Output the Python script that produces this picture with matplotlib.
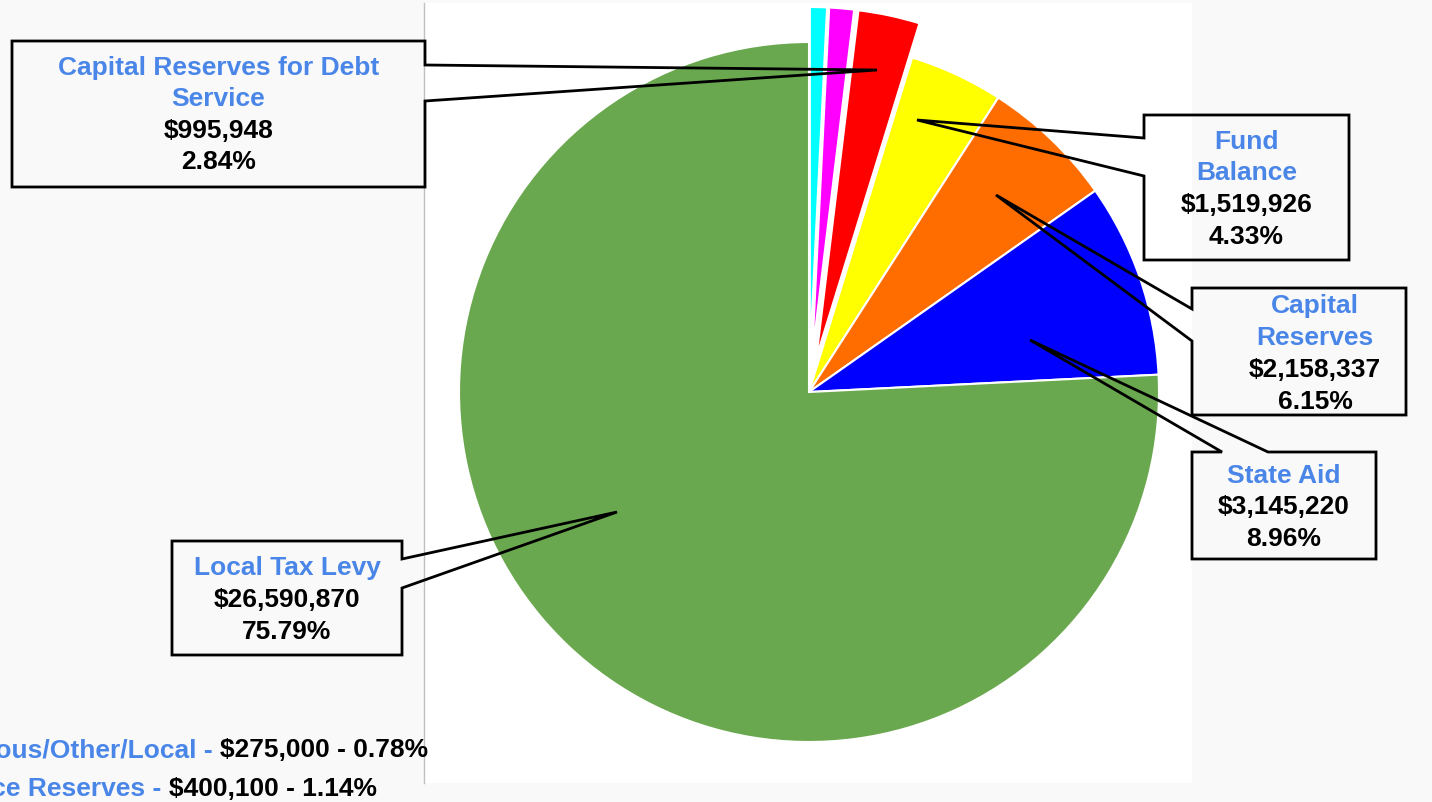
import matplotlib
matplotlib.use('Agg')
import matplotlib.pyplot as plt
from matplotlib.patches import Polygon, Rectangle

# slice data, clockwise from 12 o'clock
labels = ['Miscellaneous/Other/Local', 'Insurance Reserves', 'Capital Reserves for Debt Service',
          'Fund Balance', 'Capital Reserves', 'State Aid', 'Local Tax Levy']
amounts = [275000, 400100, 995948, 1519926, 2158337, 3145220, 26590870]
percents = ['0.78%', '1.14%', '2.84%', '4.33%', '6.15%', '8.96%', '75.79%']
colors = ['#00ffff', '#ff00ff', '#ff0000', '#ffff00', '#ff6d01', '#0000ff', '#6aa84f']
exploded = [True, True, True, False, False, False, False]

LABEL_BLUE = '#4a86e8'
BG = '#f9f9f9'
W, H = 1432, 802
FS = 19

plt.rcParams['font.family'] = ['Liberation Sans', 'DejaVu Sans']

fig = plt.figure(figsize=(W / 100, H / 100), dpi=100, facecolor=BG)
ax = fig.add_axes([0, 0, 1, 1])


def P(x, y):
    """pixel coords (top-left origin) -> data coords"""
    return (x, H - y)


# white plot panel
ax.add_patch(Rectangle(P(424, 783), 1192 - 424, 780, facecolor='white', edgecolor='none', zorder=0))
ax.plot([424, 424], [H - 783, H - 3], color='#c0c0c0', lw=1, zorder=1)

R = 350
cx, cy = P(809, 392)
ax.pie(amounts, colors=colors, startangle=90, counterclock=False, radius=R, center=(cx, cy),
       explode=[0.1 * R if e else 0 for e in exploded],
       wedgeprops=dict(edgecolor='white', linewidth=1.5), frame=True)
ax.set_xlim(0, W)
ax.set_ylim(0, H)
ax.set_aspect('equal')
ax.axis('off')


def callout(box, tip, side, a, b, name_lines, idx, line_y, xc=None):
    x0, y0, x1, y1 = box
    if side == 'right':
        pts = [(x0, y0), (x1, y0), (x1, a), tip, (x1, b), (x1, y1), (x0, y1)]
    elif side == 'left':
        pts = [(x0, y0), (x1, y0), (x1, y1), (x0, y1), (x0, b), tip, (x0, a)]
    else:  # top
        pts = [(x0, y0), (a, y0), tip, (b, y0), (x1, y0), (x1, y1), (x0, y1)]
    ax.add_patch(Polygon([P(*p) for p in pts], closed=True, facecolor='none',
                         edgecolor='black', lw=2, joinstyle='miter', zorder=5, clip_on=False))
    if xc is None:
        xc = (x0 + x1) / 2
    texts = [(t, LABEL_BLUE) for t in name_lines]
    texts += [(f"${amounts[idx]:,}", 'black'), (percents[idx], 'black')]
    for (t, c), yy in zip(texts, line_y):
        ax.text(*P(xc, yy), t, color=c, fontsize=FS, fontweight='bold',
                ha='center', va='center', zorder=6)


callout((12, 41, 425, 187), (877, 70), 'right', 65, 101,
        ['Capital Reserves for Debt', 'Service'], 2, [68, 99, 131, 162])
callout((1144, 115, 1349, 260), (917, 120), 'left', 138, 176,
        ['Fund', 'Balance'], 3, [142, 173, 205, 237])
callout((1192, 288, 1406, 415), (996, 195), 'left', 309, 341,
        ['Capital', 'Reserves'], 4, [306, 338, 370, 402], xc=1315)
callout((1192, 452, 1376, 559), (1030, 340), 'top', 1222, 1268,
        ['State Aid'], 5, [476, 507, 539])
callout((172, 541, 402, 655), (617, 512), 'right', 559, 588,
        ['Local Tax Levy'], 6, [568, 600, 632])

# legend lines for the tiny slices, cut off at the left edge like the original
fig.canvas.draw()
renderer = fig.canvas.get_renderer()
for idx, (right_x, yy) in zip([0, 1], [(428, 750), (377, 789)]):
    val = ax.text(*P(right_x, yy), f"${amounts[idx]:,} - {percents[idx]}", color='black',
                  fontsize=FS, fontweight='bold', ha='right', va='center', zorder=6)
    bb = val.get_window_extent(renderer)
    ax.text(bb.x0, H - yy, labels[idx] + ' - ', color=LABEL_BLUE, fontsize=FS,
            fontweight='bold', ha='right', va='center', zorder=6)

fig.savefig('out.png', dpi=100, facecolor=BG)
